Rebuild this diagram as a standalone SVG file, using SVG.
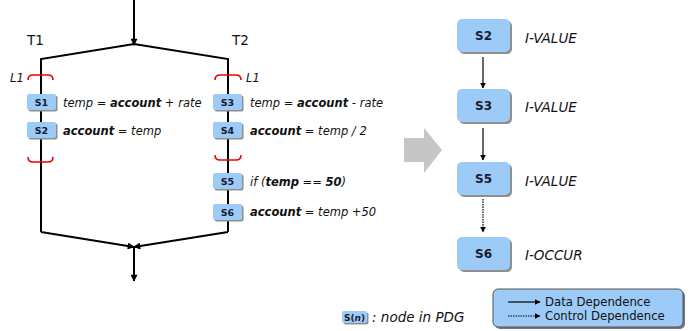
<svg xmlns="http://www.w3.org/2000/svg" width="695" height="331" viewBox="0 0 695 331">
  <defs>
    <style>
      .ln { stroke: #000; stroke-width: 2; fill: none; }
      .br { stroke: #e00; stroke-width: 1.6; fill: none; }
      .box { fill: #9dcbf8; }
      .shd { fill: #8f8f8f; }
      .sid { font-family: "DejaVu Sans", Verdana, sans-serif; font-weight: bold; fill: #1a1a2e; text-anchor: middle; }
      .code { font-family: "DejaVu Sans", Verdana, sans-serif; font-style: italic; font-size: 11.5px; fill: #111; }
      .b { font-weight: bold; }
      .lbl { font-family: "DejaVu Sans", Verdana, sans-serif; font-style: italic; font-size: 13.5px; fill: #111; }
      .t { font-family: "DejaVu Sans", Verdana, sans-serif; font-size: 13.5px; fill: #111; }
      .leg { font-family: "DejaVu Sans", Verdana, sans-serif; font-size: 11.7px; fill: #111; }
    </style>
    <marker id="ah" viewBox="0 0 10 10" refX="9" refY="5" markerWidth="8" markerHeight="7" orient="auto" markerUnits="userSpaceOnUse">
      <path d="M0,0 L10,5 L0,10 z" fill="#000"/>
    </marker>
    <marker id="ahs" viewBox="0 0 10 10" refX="9" refY="5" markerWidth="6" markerHeight="6" orient="auto" markerUnits="userSpaceOnUse">
      <path d="M0,0 L10,5 L0,10 z" fill="#000"/>
    </marker>
  </defs>

  <!-- control flow of the two threads -->
  <g id="flow">
    <line class="ln" x1="134" y1="0" x2="134" y2="45" marker-end="url(#ah)"/>
    <polyline class="ln" points="41,232 41,59 134,44 228,59 228,232"/>
    <line class="ln" x1="41" y1="232" x2="134" y2="247" marker-end="url(#ah)"/>
    <line class="ln" x1="228" y1="232" x2="134" y2="247" marker-end="url(#ah)"/>
    <line class="ln" x1="134" y1="247" x2="134" y2="281" marker-end="url(#ah)"/>
  </g>

  <g id="thread-labels">
    <text class="t" x="27" y="45">T1</text>
    <text class="t" x="232" y="45">T2</text>
  </g>

  <!-- L1 lock region braces -->
  <g id="locks">
    <path class="br" d="M28,80 Q28,75 33,75 L48,75 Q53,75 53,80"/>
    <path class="br" d="M28,157 Q28,162 33,162 L48,162 Q53,162 53,157"/>
    <path class="br" d="M215,80 Q215,75 220,75 L236,75 Q241,75 241,80"/>
    <path class="br" d="M215,155 Q215,160 220,160 L236,160 Q241,160 241,155"/>
    <text class="code" x="10" y="82" font-size="12">L1</text>
    <text class="code" x="246" y="82" font-size="12">L1</text>
  </g>

  <!-- statements of thread T1 -->
  <g id="s1">
    <rect class="shd" x="28.5" y="95.5" width="29" height="16" rx="2"/>
    <rect class="box" x="27" y="94" width="29" height="16" rx="2"/>
    <text class="sid" x="41.5" y="106" font-size="9.5">S1</text>
    <text class="code" x="63" y="107">temp = <tspan class="b">account</tspan> + rate</text>
  </g>
  <g id="s2">
    <rect class="shd" x="28.5" y="123.5" width="29" height="16" rx="2"/>
    <rect class="box" x="27" y="122" width="29" height="16" rx="2"/>
    <text class="sid" x="41.5" y="134" font-size="9.5">S2</text>
    <text class="code" x="63" y="135"><tspan class="b">account</tspan> = temp</text>
  </g>

  <!-- statements of thread T2 -->
  <g id="s3">
    <rect class="shd" x="214.5" y="95.5" width="29" height="16" rx="2"/>
    <rect class="box" x="213" y="94" width="29" height="16" rx="2"/>
    <text class="sid" x="227.5" y="106" font-size="9.5">S3</text>
    <text class="code" x="250" y="107">temp = <tspan class="b">account</tspan> - rate</text>
  </g>
  <g id="s4">
    <rect class="shd" x="214.5" y="123.5" width="29" height="16" rx="2"/>
    <rect class="box" x="213" y="122" width="29" height="16" rx="2"/>
    <text class="sid" x="227.5" y="134" font-size="9.5">S4</text>
    <text class="code" x="250" y="135"><tspan class="b">account</tspan> = temp / 2</text>
  </g>
  <g id="s5">
    <rect class="shd" x="214.5" y="174.5" width="29" height="16" rx="2"/>
    <rect class="box" x="213" y="173" width="29" height="16" rx="2"/>
    <text class="sid" x="227.5" y="185" font-size="9.5">S5</text>
    <text class="code" x="250" y="186">if (<tspan class="b">temp</tspan> == <tspan class="b">50</tspan>)</text>
  </g>
  <g id="s6">
    <rect class="shd" x="214.5" y="205.5" width="29" height="16" rx="2"/>
    <rect class="box" x="213" y="204" width="29" height="16" rx="2"/>
    <text class="sid" x="227.5" y="216" font-size="9.5">S6</text>
    <text class="code" x="250" y="216"><tspan class="b">account</tspan> = temp +50</text>
  </g>

  <!-- transformation arrow -->
  <polygon id="transform" points="404,138 424,138 424,128 442,150 424,173 424,162 404,162" fill="#c6c6c6"/>

  <!-- program dependence graph -->
  <g id="p2">
    <rect class="shd" x="459" y="21" width="53" height="33" rx="5"/>
    <rect class="box" x="457" y="19" width="53" height="33" rx="5"/>
    <text class="sid" x="483.5" y="40" font-size="12">S2</text>
    <text class="lbl" x="525" y="43">I-VALUE</text>
  </g>
  <g id="p3">
    <rect class="shd" x="459" y="91" width="53" height="33" rx="5"/>
    <rect class="box" x="457" y="89" width="53" height="33" rx="5"/>
    <text class="sid" x="483.5" y="110" font-size="12">S3</text>
    <text class="lbl" x="525" y="112">I-VALUE</text>
  </g>
  <g id="p5">
    <rect class="shd" x="459" y="164" width="53" height="33" rx="5"/>
    <rect class="box" x="457" y="162" width="53" height="33" rx="5"/>
    <text class="sid" x="483.5" y="183" font-size="12">S5</text>
    <text class="lbl" x="525" y="186">I-VALUE</text>
  </g>
  <g id="p6">
    <rect class="shd" x="459" y="239" width="53" height="33" rx="5"/>
    <rect class="box" x="457" y="237" width="53" height="33" rx="5"/>
    <text class="sid" x="483.5" y="258" font-size="12">S6</text>
    <text class="lbl" x="525" y="260">I-OCCUR</text>
  </g>

  <g id="dependences">
    <line x1="483" y1="57" x2="483" y2="88" stroke="#000" stroke-width="1.2" marker-end="url(#ahs)"/>
    <line x1="483" y1="128" x2="483" y2="160" stroke="#000" stroke-width="1.2" marker-end="url(#ahs)"/>
    <line x1="483" y1="199" x2="483" y2="232" stroke="#000" stroke-width="1.2" stroke-dasharray="1.5 1" marker-end="url(#ahs)"/>
  </g>

  <!-- node notation key -->
  <g id="key">
    <rect class="shd" x="343.5" y="312.5" width="25" height="12" rx="2"/>
    <rect class="box" x="342" y="311" width="25" height="12" rx="2"/>
    <text class="sid" x="354.5" y="321" font-size="9">S(<tspan font-style="italic">n</tspan>)</text>
    <text class="lbl" x="372" y="322" font-size="12.5">: node in PDG</text>
  </g>

  <!-- edge legend -->
  <g id="legend">
    <rect x="495" y="291" width="190" height="38" rx="5" fill="#777"/>
    <rect x="493" y="289" width="190" height="38" rx="5" class="box" stroke="#555" stroke-width="1"/>
    <line x1="508" y1="302" x2="540" y2="302" stroke="#000" stroke-width="1.2" marker-end="url(#ahs)"/>
    <line x1="508" y1="316" x2="540" y2="316" stroke="#000" stroke-width="1.2" stroke-dasharray="1.5 1" marker-end="url(#ahs)"/>
    <text class="leg" x="545" y="306">Data Dependence</text>
    <text class="leg" x="545" y="320">Control Dependence</text>
  </g>
</svg>
